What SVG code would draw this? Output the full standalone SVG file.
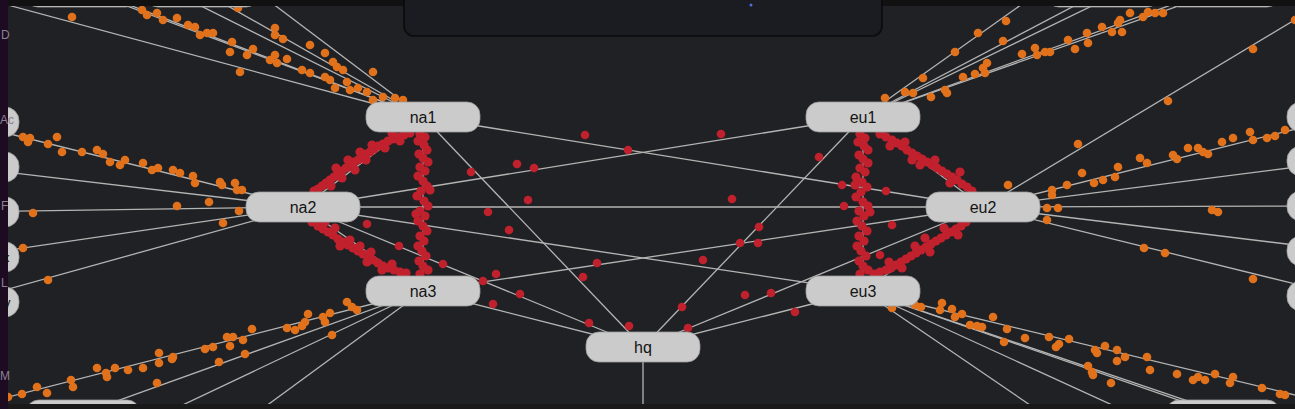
<svg xmlns="http://www.w3.org/2000/svg" width="1295" height="409" viewBox="0 0 1295 409">
<defs>
<style>
.bg{fill:#202124}
.ln line{stroke:#b4b4b4;stroke-width:1.3}
.o circle{fill:#e1721b}
.r circle{fill:#c1202d}
.node rect{fill:#cbcbcb;stroke:#9d9d9d;stroke-width:0.8}
.node text{font-family:"Liberation Sans",Arial,sans-serif;font-size:16px;fill:#141414;text-anchor:middle}
.side{font-family:"Liberation Sans",Arial,sans-serif;font-size:12px;fill:#8d8294}
</style>
</defs>
<rect class="bg" x="0" y="0" width="1295" height="409"/>

<g id="connectors" class="ln">
<line x1="423" y1="117" x2="983" y2="207"/>
<line x1="863" y1="117" x2="303" y2="207"/>
<line x1="303" y1="207" x2="983" y2="207"/>
<line x1="303" y1="207" x2="863" y2="291"/>
<line x1="423" y1="291" x2="983" y2="207"/>
<line x1="423" y1="117" x2="643" y2="347"/>
<line x1="863" y1="117" x2="643" y2="347"/>
<line x1="303" y1="207" x2="643" y2="347"/>
<line x1="983" y1="207" x2="643" y2="347"/>
<line x1="423" y1="291" x2="643" y2="347"/>
<line x1="863" y1="291" x2="643" y2="347"/>
<line x1="643" y1="347" x2="643" y2="420"/>
<line x1="423" y1="117" x2="423" y2="291"/>
<line x1="863" y1="117" x2="863" y2="291"/>
<line x1="423" y1="117" x2="303" y2="207"/>
<line x1="303" y1="207" x2="423" y2="291"/>
<line x1="863" y1="117" x2="983" y2="207"/>
<line x1="983" y1="207" x2="863" y2="291"/>
<line x1="423" y1="117" x2="-66" y2="-15"/>
<line x1="423" y1="117" x2="71" y2="-15"/>
<line x1="423" y1="117" x2="77" y2="-15"/>
<line x1="423" y1="117" x2="159" y2="-15"/>
<line x1="423" y1="117" x2="191" y2="-15"/>
<line x1="423" y1="117" x2="248" y2="-15"/>
<line x1="863" y1="117" x2="1049" y2="-15"/>
<line x1="863" y1="117" x2="1114" y2="-15"/>
<line x1="863" y1="117" x2="1135" y2="-15"/>
<line x1="863" y1="117" x2="1226" y2="-15"/>
<line x1="863" y1="117" x2="1238" y2="-15"/>
<line x1="983" y1="207" x2="1353" y2="-15"/>
<line x1="303" y1="207" x2="-38" y2="122"/>
<line x1="303" y1="207" x2="-38" y2="167"/>
<line x1="303" y1="207" x2="-38" y2="212"/>
<line x1="303" y1="207" x2="-38" y2="257"/>
<line x1="303" y1="207" x2="-38" y2="302"/>
<line x1="983" y1="207" x2="1344" y2="117"/>
<line x1="983" y1="207" x2="1344" y2="161"/>
<line x1="983" y1="207" x2="1344" y2="206"/>
<line x1="983" y1="207" x2="1344" y2="251"/>
<line x1="983" y1="207" x2="1344" y2="296"/>
<line x1="423" y1="291" x2="-82" y2="420"/>
<line x1="423" y1="291" x2="64" y2="420"/>
<line x1="423" y1="291" x2="151" y2="420"/>
<line x1="423" y1="291" x2="247" y2="420"/>
<line x1="863" y1="291" x2="1399" y2="420"/>
<line x1="863" y1="291" x2="1236" y2="420"/>
<line x1="863" y1="291" x2="1244" y2="420"/>
<line x1="863" y1="291" x2="1145" y2="420"/>
<line x1="863" y1="291" x2="1052" y2="420"/>
</g>

<g id="particles-orange" class="o">
<circle cx="72" cy="17" r="4.3"/><circle cx="142" cy="10" r="4.3"/><circle cx="147" cy="15" r="4.3"/><circle cx="157" cy="13" r="4.3"/><circle cx="163" cy="20" r="4.3"/><circle cx="177" cy="18" r="4.3"/><circle cx="188" cy="25" r="4.3"/><circle cx="195" cy="27" r="4.3"/><circle cx="200" cy="35" r="4.3"/><circle cx="207" cy="33" r="4.3"/><circle cx="213" cy="33" r="4.3"/><circle cx="232" cy="42" r="4.3"/><circle cx="230" cy="52" r="4.3"/><circle cx="240" cy="72" r="4.3"/><circle cx="247" cy="55" r="4.3"/><circle cx="253" cy="49" r="4.3"/><circle cx="270" cy="60" r="4.3"/><circle cx="275" cy="55" r="4.3"/><circle cx="277" cy="63" r="4.3"/><circle cx="287" cy="59" r="4.3"/><circle cx="275" cy="28" r="4.3"/><circle cx="275" cy="35" r="4.3"/><circle cx="283" cy="39" r="4.3"/><circle cx="310" cy="45" r="4.3"/><circle cx="302" cy="70" r="4.3"/><circle cx="310" cy="73" r="4.3"/><circle cx="325" cy="53" r="4.3"/><circle cx="333" cy="62" r="4.3"/><circle cx="337" cy="67" r="4.3"/><circle cx="343" cy="70" r="4.3"/><circle cx="325" cy="77" r="4.3"/><circle cx="330" cy="80" r="4.3"/><circle cx="335" cy="88" r="4.3"/><circle cx="347" cy="82" r="4.3"/><circle cx="350" cy="90" r="4.3"/><circle cx="358" cy="88" r="4.3"/><circle cx="367" cy="92" r="4.3"/><circle cx="373" cy="72" r="4.3"/><circle cx="373" cy="100" r="4.3"/><circle cx="383" cy="97" r="4.3"/><circle cx="395" cy="98" r="4.3"/><circle cx="403" cy="100" r="4.3"/><circle cx="238" cy="8" r="4.3"/>
<circle cx="23" cy="137" r="4.3"/><circle cx="28" cy="142" r="4.3"/><circle cx="30" cy="138" r="4.3"/><circle cx="48" cy="144" r="4.3"/><circle cx="57" cy="137" r="4.3"/><circle cx="62" cy="152" r="4.3"/><circle cx="82" cy="152" r="4.3"/><circle cx="97" cy="150" r="4.3"/><circle cx="103" cy="154" r="4.3"/><circle cx="110" cy="162" r="4.3"/><circle cx="120" cy="165" r="4.3"/><circle cx="125" cy="160" r="4.3"/><circle cx="143" cy="163" r="4.3"/><circle cx="152" cy="170" r="4.3"/><circle cx="158" cy="168" r="4.3"/><circle cx="173" cy="170" r="4.3"/><circle cx="180" cy="173" r="4.3"/><circle cx="193" cy="176" r="4.3"/><circle cx="195" cy="183" r="4.3"/><circle cx="220" cy="182" r="4.3"/><circle cx="222" cy="185" r="4.3"/><circle cx="235" cy="183" r="4.3"/><circle cx="237" cy="190" r="4.3"/><circle cx="242" cy="190" r="4.3"/><circle cx="209" cy="202" r="4.3"/><circle cx="177" cy="206" r="4.3"/><circle cx="33" cy="213" r="4.3"/><circle cx="239" cy="211" r="4.3"/><circle cx="223" cy="223" r="4.3"/><circle cx="23" cy="248" r="4.3"/><circle cx="48" cy="280" r="4.3"/>
<circle cx="347" cy="302" r="4.3"/><circle cx="352" cy="307" r="4.3"/><circle cx="357" cy="310" r="4.3"/><circle cx="308" cy="314" r="4.3"/><circle cx="305" cy="322" r="4.3"/><circle cx="302" cy="326" r="4.3"/><circle cx="323" cy="317" r="4.3"/><circle cx="325" cy="322" r="4.3"/><circle cx="330" cy="313" r="4.3"/><circle cx="295" cy="330" r="4.3"/><circle cx="287" cy="328" r="4.3"/><circle cx="252" cy="329" r="4.3"/><circle cx="243" cy="340" r="4.3"/><circle cx="227" cy="337" r="4.3"/><circle cx="233" cy="337" r="4.3"/><circle cx="230" cy="346" r="4.3"/><circle cx="213" cy="347" r="4.3"/><circle cx="205" cy="349" r="4.3"/><circle cx="245" cy="354" r="4.3"/><circle cx="219" cy="362" r="4.3"/><circle cx="173" cy="357" r="4.3"/><circle cx="172" cy="359" r="4.3"/><circle cx="159" cy="353" r="4.3"/><circle cx="159" cy="363" r="4.3"/><circle cx="143" cy="368" r="4.3"/><circle cx="128" cy="370" r="4.3"/><circle cx="115" cy="368" r="4.3"/><circle cx="107" cy="377" r="4.3"/><circle cx="106" cy="373" r="4.3"/><circle cx="97" cy="368" r="4.3"/><circle cx="157" cy="383" r="4.3"/><circle cx="73" cy="387" r="4.3"/><circle cx="71" cy="380" r="4.3"/><circle cx="47" cy="393" r="4.3"/><circle cx="37" cy="387" r="4.3"/><circle cx="22" cy="394" r="4.3"/><circle cx="8" cy="397" r="4.3"/><circle cx="332" cy="335" r="4.3"/>
<circle cx="885" cy="98" r="4.3"/><circle cx="905" cy="92" r="4.3"/><circle cx="913" cy="93" r="4.3"/><circle cx="923" cy="78" r="4.3"/><circle cx="931" cy="97" r="4.3"/><circle cx="945" cy="90" r="4.3"/><circle cx="947" cy="93" r="4.3"/><circle cx="963" cy="77" r="4.3"/><circle cx="975" cy="74" r="4.3"/><circle cx="983" cy="68" r="4.3"/><circle cx="987" cy="63" r="4.3"/><circle cx="985" cy="73" r="4.3"/><circle cx="955" cy="52" r="4.3"/><circle cx="978" cy="33" r="4.3"/><circle cx="1006" cy="21" r="4.3"/><circle cx="1003" cy="41" r="4.3"/><circle cx="1022" cy="54" r="4.3"/><circle cx="1035" cy="48" r="4.3"/><circle cx="1037" cy="55" r="4.3"/><circle cx="1045" cy="52" r="4.3"/><circle cx="1050" cy="52" r="4.3"/><circle cx="1068" cy="40" r="4.3"/><circle cx="1075" cy="49" r="4.3"/><circle cx="1087" cy="33" r="4.3"/><circle cx="1088" cy="43" r="4.3"/><circle cx="1102" cy="27" r="4.3"/><circle cx="1112" cy="32" r="4.3"/><circle cx="1122" cy="32" r="4.3"/><circle cx="1118" cy="23" r="4.3"/><circle cx="1120" cy="20" r="4.3"/><circle cx="1130" cy="13" r="4.3"/><circle cx="1143" cy="17" r="4.3"/><circle cx="1148" cy="12" r="4.3"/><circle cx="1155" cy="13" r="4.3"/><circle cx="1163" cy="13" r="4.3"/>
<circle cx="1078" cy="144" r="4.3"/><circle cx="1168" cy="101" r="4.3"/><circle cx="1253" cy="49" r="4.3"/><circle cx="1295" cy="20" r="4.3"/>
<circle cx="1008" cy="185" r="4.3"/><circle cx="1052" cy="190" r="4.3"/><circle cx="1052" cy="195" r="4.3"/><circle cx="1067" cy="185" r="4.3"/><circle cx="1082" cy="173" r="4.3"/><circle cx="1094" cy="183" r="4.3"/><circle cx="1103" cy="180" r="4.3"/><circle cx="1115" cy="177" r="4.3"/><circle cx="1118" cy="167" r="4.3"/><circle cx="1140" cy="158" r="4.3"/><circle cx="1147" cy="163" r="4.3"/><circle cx="1173" cy="155" r="4.3"/><circle cx="1177" cy="159" r="4.3"/><circle cx="1188" cy="148" r="4.3"/><circle cx="1198" cy="148" r="4.3"/><circle cx="1203" cy="152" r="4.3"/><circle cx="1208" cy="154" r="4.3"/><circle cx="1222" cy="142" r="4.3"/><circle cx="1233" cy="138" r="4.3"/><circle cx="1250" cy="132" r="4.3"/><circle cx="1253" cy="140" r="4.3"/><circle cx="1267" cy="138" r="4.3"/><circle cx="1275" cy="136" r="4.3"/><circle cx="1285" cy="130" r="4.3"/>
<circle cx="1047" cy="208" r="4.3"/><circle cx="1058" cy="208" r="4.3"/><circle cx="1047" cy="220" r="4.3"/><circle cx="1212" cy="210" r="4.3"/><circle cx="1218" cy="212" r="4.3"/><circle cx="1144" cy="248" r="4.3"/><circle cx="1165" cy="253" r="4.3"/><circle cx="1253" cy="279" r="4.3"/>
<circle cx="892" cy="308" r="4.3"/><circle cx="915" cy="305" r="4.3"/><circle cx="921" cy="307" r="4.3"/><circle cx="942" cy="303" r="4.3"/><circle cx="940" cy="310" r="4.3"/><circle cx="952" cy="309" r="4.3"/><circle cx="955" cy="317" r="4.3"/><circle cx="962" cy="314" r="4.3"/><circle cx="970" cy="325" r="4.3"/><circle cx="977" cy="326" r="4.3"/><circle cx="982" cy="327" r="4.3"/><circle cx="993" cy="317" r="4.3"/><circle cx="1007" cy="329" r="4.3"/><circle cx="1025" cy="338" r="4.3"/><circle cx="1004" cy="342" r="4.3"/><circle cx="1049" cy="337" r="4.3"/><circle cx="1056" cy="347" r="4.3"/><circle cx="1059" cy="344" r="4.3"/><circle cx="1069" cy="339" r="4.3"/><circle cx="1095" cy="350" r="4.3"/><circle cx="1097" cy="353" r="4.3"/><circle cx="1105" cy="346" r="4.3"/><circle cx="1117" cy="350" r="4.3"/><circle cx="1125" cy="357" r="4.3"/><circle cx="1117" cy="361" r="4.3"/><circle cx="1088" cy="366" r="4.3"/><circle cx="1092" cy="372" r="4.3"/><circle cx="1093" cy="375" r="4.3"/><circle cx="1111" cy="383" r="4.3"/><circle cx="1147" cy="357" r="4.3"/><circle cx="1150" cy="370" r="4.3"/><circle cx="1177" cy="374" r="4.3"/><circle cx="1193" cy="380" r="4.3"/><circle cx="1198" cy="377" r="4.3"/><circle cx="1205" cy="380" r="4.3"/><circle cx="1215" cy="374" r="4.3"/><circle cx="1233" cy="377" r="4.3"/><circle cx="1230" cy="383" r="4.3"/><circle cx="1262" cy="388" r="4.3"/><circle cx="1280" cy="394" r="4.3"/><circle cx="1285" cy="395" r="4.3"/>
</g>

<g id="particles-red" class="r">
<circle cx="420" cy="134" r="4.6"/><circle cx="425" cy="137" r="4.6"/><circle cx="418" cy="141" r="4.6"/><circle cx="424" cy="145" r="4.6"/><circle cx="427" cy="150" r="4.6"/><circle cx="419" cy="154" r="4.6"/><circle cx="423" cy="158" r="4.6"/><circle cx="428" cy="162" r="4.6"/><circle cx="420" cy="167" r="4.6"/><circle cx="425" cy="171" r="4.6"/><circle cx="418" cy="176" r="4.6"/><circle cx="423" cy="181" r="4.6"/><circle cx="427" cy="186" r="4.6"/><circle cx="421" cy="191" r="4.6"/><circle cx="417" cy="196" r="4.6"/><circle cx="424" cy="201" r="4.6"/><circle cx="428" cy="206" r="4.6"/><circle cx="420" cy="211" r="4.6"/><circle cx="425" cy="216" r="4.6"/><circle cx="418" cy="221" r="4.6"/><circle cx="423" cy="226" r="4.6"/><circle cx="427" cy="231" r="4.6"/><circle cx="420" cy="236" r="4.6"/><circle cx="424" cy="241" r="4.6"/><circle cx="418" cy="246" r="4.6"/><circle cx="422" cy="251" r="4.6"/><circle cx="426" cy="256" r="4.6"/><circle cx="419" cy="261" r="4.6"/><circle cx="423" cy="266" r="4.6"/><circle cx="428" cy="270" r="4.6"/><circle cx="420" cy="274" r="4.6"/><circle cx="416" cy="214" r="4.6"/><circle cx="430" cy="190" r="4.6"/>
<circle cx="860" cy="134" r="4.6"/><circle cx="865" cy="138" r="4.6"/><circle cx="858" cy="142" r="4.6"/><circle cx="864" cy="146" r="4.6"/><circle cx="868" cy="150" r="4.6"/><circle cx="859" cy="155" r="4.6"/><circle cx="863" cy="159" r="4.6"/><circle cx="868" cy="163" r="4.6"/><circle cx="860" cy="168" r="4.6"/><circle cx="865" cy="172" r="4.6"/><circle cx="856" cy="177" r="4.6"/><circle cx="862" cy="182" r="4.6"/><circle cx="867" cy="187" r="4.6"/><circle cx="861" cy="192" r="4.6"/><circle cx="856" cy="197" r="4.6"/><circle cx="863" cy="202" r="4.6"/><circle cx="868" cy="206" r="4.6"/><circle cx="859" cy="211" r="4.6"/><circle cx="864" cy="216" r="4.6"/><circle cx="857" cy="221" r="4.6"/><circle cx="862" cy="226" r="4.6"/><circle cx="867" cy="231" r="4.6"/><circle cx="859" cy="236" r="4.6"/><circle cx="864" cy="241" r="4.6"/><circle cx="857" cy="246" r="4.6"/><circle cx="861" cy="251" r="4.6"/><circle cx="866" cy="256" r="4.6"/><circle cx="859" cy="261" r="4.6"/><circle cx="863" cy="266" r="4.6"/><circle cx="868" cy="270" r="4.6"/><circle cx="860" cy="274" r="4.6"/><circle cx="855" cy="185" r="4.6"/><circle cx="870" cy="212" r="4.6"/>
<circle cx="410" cy="133" r="4.6"/><circle cx="404" cy="135" r="4.6"/><circle cx="398" cy="137" r="4.6"/><circle cx="393" cy="139" r="4.6"/><circle cx="388" cy="141" r="4.6"/><circle cx="383" cy="144" r="4.6"/><circle cx="378" cy="146" r="4.6"/><circle cx="374" cy="149" r="4.6"/><circle cx="370" cy="152" r="4.6"/><circle cx="366" cy="154" r="4.6"/><circle cx="362" cy="157" r="4.6"/><circle cx="358" cy="160" r="4.6"/><circle cx="354" cy="162" r="4.6"/><circle cx="350" cy="165" r="4.6"/><circle cx="346" cy="168" r="4.6"/><circle cx="342" cy="171" r="4.6"/><circle cx="338" cy="174" r="4.6"/><circle cx="334" cy="177" r="4.6"/><circle cx="330" cy="180" r="4.6"/><circle cx="326" cy="183" r="4.6"/><circle cx="322" cy="186" r="4.6"/><circle cx="318" cy="189" r="4.6"/><circle cx="314" cy="191" r="4.6"/><circle cx="400" cy="141" r="4.6"/><circle cx="385" cy="148" r="4.6"/><circle cx="372" cy="145" r="4.6"/><circle cx="360" cy="152" r="4.6"/><circle cx="348" cy="160" r="4.6"/><circle cx="336" cy="168" r="4.6"/><circle cx="331" cy="186" r="4.6"/><circle cx="366" cy="160" r="4.6"/><circle cx="392" cy="133" r="4.6"/><circle cx="355" cy="170" r="4.6"/><circle cx="342" cy="178" r="4.6"/>
<circle cx="312" cy="222" r="4.6"/><circle cx="318" cy="226" r="4.6"/><circle cx="323" cy="229" r="4.6"/><circle cx="328" cy="232" r="4.6"/><circle cx="333" cy="235" r="4.6"/><circle cx="338" cy="239" r="4.6"/><circle cx="343" cy="242" r="4.6"/><circle cx="348" cy="245" r="4.6"/><circle cx="353" cy="248" r="4.6"/><circle cx="358" cy="251" r="4.6"/><circle cx="363" cy="254" r="4.6"/><circle cx="368" cy="257" r="4.6"/><circle cx="373" cy="260" r="4.6"/><circle cx="378" cy="263" r="4.6"/><circle cx="383" cy="266" r="4.6"/><circle cx="388" cy="268" r="4.6"/><circle cx="394" cy="270" r="4.6"/><circle cx="400" cy="272" r="4.6"/><circle cx="406" cy="273" r="4.6"/><circle cx="325" cy="222" r="4.6"/><circle cx="340" cy="246" r="4.6"/><circle cx="350" cy="240" r="4.6"/><circle cx="360" cy="246" r="4.6"/><circle cx="371" cy="252" r="4.6"/><circle cx="382" cy="270" r="4.6"/><circle cx="392" cy="264" r="4.6"/><circle cx="335" cy="228" r="4.6"/><circle cx="367" cy="262" r="4.6"/>
<circle cx="880" cy="134" r="4.6"/><circle cx="886" cy="137" r="4.6"/><circle cx="892" cy="140" r="4.6"/><circle cx="897" cy="143" r="4.6"/><circle cx="902" cy="146" r="4.6"/><circle cx="907" cy="150" r="4.6"/><circle cx="912" cy="153" r="4.6"/><circle cx="917" cy="156" r="4.6"/><circle cx="922" cy="159" r="4.6"/><circle cx="927" cy="162" r="4.6"/><circle cx="932" cy="165" r="4.6"/><circle cx="937" cy="168" r="4.6"/><circle cx="942" cy="171" r="4.6"/><circle cx="947" cy="174" r="4.6"/><circle cx="952" cy="177" r="4.6"/><circle cx="957" cy="180" r="4.6"/><circle cx="962" cy="184" r="4.6"/><circle cx="967" cy="187" r="4.6"/><circle cx="972" cy="191" r="4.6"/><circle cx="890" cy="146" r="4.6"/><circle cx="905" cy="142" r="4.6"/><circle cx="920" cy="165" r="4.6"/><circle cx="935" cy="160" r="4.6"/><circle cx="950" cy="183" r="4.6"/><circle cx="960" cy="172" r="4.6"/><circle cx="912" cy="160" r="4.6"/>
<circle cx="966" cy="222" r="4.6"/><circle cx="961" cy="226" r="4.6"/><circle cx="956" cy="229" r="4.6"/><circle cx="951" cy="232" r="4.6"/><circle cx="946" cy="235" r="4.6"/><circle cx="941" cy="238" r="4.6"/><circle cx="936" cy="241" r="4.6"/><circle cx="931" cy="244" r="4.6"/><circle cx="926" cy="247" r="4.6"/><circle cx="921" cy="250" r="4.6"/><circle cx="916" cy="253" r="4.6"/><circle cx="911" cy="256" r="4.6"/><circle cx="906" cy="259" r="4.6"/><circle cx="901" cy="262" r="4.6"/><circle cx="896" cy="265" r="4.6"/><circle cx="891" cy="268" r="4.6"/><circle cx="886" cy="270" r="4.6"/><circle cx="880" cy="272" r="4.6"/><circle cx="874" cy="274" r="4.6"/><circle cx="958" cy="235" r="4.6"/><circle cx="944" cy="228" r="4.6"/><circle cx="930" cy="252" r="4.6"/><circle cx="915" cy="246" r="4.6"/><circle cx="902" cy="268" r="4.6"/><circle cx="889" cy="262" r="4.6"/><circle cx="925" cy="238" r="4.6"/>
<circle cx="585" cy="135" r="4.3"/><circle cx="628" cy="150" r="4.3"/><circle cx="721" cy="134" r="4.3"/><circle cx="517" cy="164" r="4.3"/><circle cx="534" cy="168" r="4.3"/><circle cx="471" cy="172" r="4.3"/><circle cx="819" cy="157" r="4.3"/><circle cx="528" cy="200" r="4.3"/><circle cx="732" cy="199" r="4.3"/><circle cx="488" cy="212" r="4.3"/><circle cx="509" cy="230" r="4.3"/><circle cx="759" cy="227" r="4.3"/><circle cx="740" cy="243" r="4.3"/><circle cx="758" cy="243" r="4.3"/><circle cx="703" cy="260" r="4.3"/><circle cx="597" cy="263" r="4.3"/><circle cx="583" cy="277" r="4.3"/><circle cx="443" cy="264" r="4.3"/><circle cx="496" cy="274" r="4.3"/><circle cx="483" cy="281" r="4.3"/><circle cx="520" cy="294" r="4.3"/><circle cx="493" cy="304" r="4.3"/><circle cx="745" cy="295" r="4.3"/><circle cx="771" cy="293" r="4.3"/><circle cx="682" cy="307" r="4.3"/><circle cx="795" cy="312" r="4.3"/><circle cx="589" cy="323" r="4.3"/><circle cx="629" cy="326" r="4.3"/><circle cx="688" cy="328" r="4.3"/><circle cx="842" cy="185" r="4.3"/><circle cx="886" cy="191" r="4.3"/><circle cx="892" cy="225" r="4.3"/><circle cx="844" cy="206" r="4.3"/><circle cx="880" cy="255" r="4.3"/><circle cx="367" cy="224" r="4.3"/><circle cx="399" cy="246" r="4.3"/>
</g>

<g id="node-na1" class="node"><rect x="366" y="102" width="114" height="30" rx="13"/><text x="423" y="123">na1</text></g>
<g id="node-na2" class="node"><rect x="246" y="192" width="114" height="30" rx="13"/><text x="303" y="213">na2</text></g>
<g id="node-na3" class="node"><rect x="366" y="276" width="114" height="30" rx="13"/><text x="423" y="297">na3</text></g>
<g id="node-eu1" class="node"><rect x="806" y="102" width="114" height="30" rx="13"/><text x="863" y="123">eu1</text></g>
<g id="node-eu2" class="node"><rect x="926" y="192" width="114" height="30" rx="13"/><text x="983" y="213">eu2</text></g>
<g id="node-eu3" class="node"><rect x="806" y="276" width="114" height="30" rx="13"/><text x="863" y="297">eu3</text></g>
<g id="node-hq" class="node"><rect x="586" y="332" width="114" height="30" rx="13"/><text x="643" y="353">hq</text></g>

<g id="node-left-1" class="node"><rect x="-95" y="107" width="114" height="30" rx="14"/></g>
<g id="node-left-2" class="node"><rect x="-95" y="152" width="114" height="30" rx="14"/></g>
<g id="node-left-3" class="node"><rect x="-95" y="197" width="114" height="30" rx="14"/></g>
<g id="node-left-4" class="node"><rect x="-95" y="242" width="114" height="30" rx="14"/></g>
<g id="node-left-5" class="node"><rect x="-95" y="287" width="114" height="30" rx="14"/></g>
<g id="node-right-1" class="node"><rect x="1287" y="102" width="114" height="30" rx="14"/></g>
<g id="node-right-2" class="node"><rect x="1287" y="146" width="114" height="30" rx="14"/></g>
<g id="node-right-3" class="node"><rect x="1287" y="191" width="114" height="30" rx="14"/></g>
<g id="node-right-4" class="node"><rect x="1287" y="236" width="114" height="30" rx="14"/></g>
<g id="node-right-5" class="node"><rect x="1287" y="281" width="114" height="30" rx="14"/></g>
<g id="node-top-1" class="node"><rect x="25" y="-23" width="114" height="30" rx="13"/></g>
<g id="node-top-2" class="node"><rect x="145" y="-23" width="114" height="30" rx="13"/></g>
<g id="node-top-3" class="node"><rect x="1046" y="-23" width="114" height="30" rx="13"/></g>
<g id="node-top-4" class="node"><rect x="1166" y="-23" width="114" height="30" rx="13"/></g>
<g id="node-bottom-1" class="node"><rect x="26" y="400" width="114" height="30" rx="13"/></g>
<g id="node-bottom-2" class="node"><rect x="1166" y="400" width="114" height="30" rx="13"/></g>

<g id="frame">
<rect x="0" y="0" width="1295" height="6" fill="#111112"/>
<rect x="0" y="404" width="1295" height="5" fill="#19191a"/>
<rect x="404" y="-12" width="478" height="48" rx="10" fill="#1a1c21" stroke="#0b0b0d" stroke-width="1.6"/>
<circle cx="751" cy="5" r="1.5" fill="#4d6fe0"/>
<rect x="0" y="0" width="8" height="409" fill="#1d0b22"/>
<text class="side" x="1" y="39">D</text>
<text class="side" x="0" y="124">Ac</text>
<text class="side" x="1" y="210">F</text>
<text class="side" x="1" y="287">L</text>
<text class="side" x="0" y="380">M</text>
<text x="3" y="262" font-family="Liberation Sans, Arial, sans-serif" font-size="13" fill="#111">x</text>
<text x="4" y="307" font-family="Liberation Sans, Arial, sans-serif" font-size="13" fill="#111">y</text>
</g>
</svg>
